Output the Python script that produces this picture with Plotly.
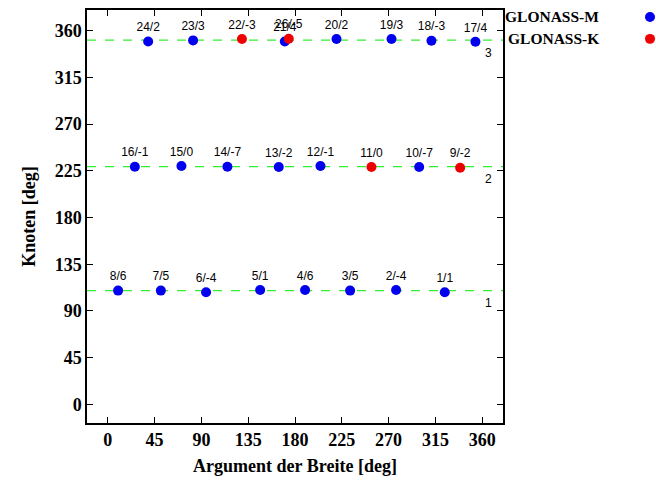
import plotly.graph_objects as go

# ---- data ----
m_labels = ["24/2", "23/3", "21/4", "20/2", "19/3", "18/-3", "17/4",
            "16/-1", "15/0", "14/-7", "13/-2", "12/-1", "10/-7",
            "8/6", "7/5", "6/-4", "5/1", "4/6", "3/5", "2/-4", "1/1"]
m_arg = [38.8, 82.0, 170.2, 219.9, 272.8, 311.2, 353.5,
         26.0, 70.8, 115.0, 164.4, 204.5, 299.4,
         9.9, 51.0, 94.5, 146.5, 189.7, 233.0, 277.2, 324.0]
m_node = [349.7, 350.7, 349.7, 352.0, 352.0, 350.4, 349.4,
          229.0, 229.7, 229.0, 228.7, 229.7, 228.7,
          109.6, 109.6, 108.0, 110.2, 110.2, 109.6, 110.2, 108.0]

k_labels = ["22/-3", "26/-5", "11/0", "9/-2"]
k_arg = [129.0, 174.0, 253.5, 338.8]
k_node = [352.0, 352.3, 228.7, 228.0]

plane_nodes = [109.6, 229.0, 351.0]
plane_names = ["1", "2", "3"]
plane_label_y = [98, 217, 338.5]

ticks = [0, 45, 90, 135, 180, 225, 270, 315, 360]

serif = "Liberation Serif, Times New Roman, Times, serif"
sans = "Liberation Sans, Arial, Helvetica, sans-serif"

fig = go.Figure()

for yv in plane_nodes:
    fig.add_hline(y=yv, line=dict(color="#33ee33", width=1.2, dash="dash"), layer="below")

fig.add_trace(go.Scatter(x=m_arg, y=m_node, mode="markers+text", text=m_labels,
                         textposition="top center",
                         textfont=dict(family=sans, size=12, color="black"),
                         marker=dict(color="#0000ee", size=10), showlegend=False,
                         cliponaxis=False))
fig.add_trace(go.Scatter(x=k_arg, y=k_node, mode="markers+text", text=k_labels,
                         textposition="top center",
                         textfont=dict(family=sans, size=12, color="black"),
                         marker=dict(color="#ee0000", size=10), showlegend=False,
                         cliponaxis=False))

for name, yv in zip(plane_names, plane_label_y):
    fig.add_annotation(x=366, y=yv, text=name, showarrow=False,
                       font=dict(family=sans, size=12, color="black"))

# legend (custom)
legend_items = [("GLONASS-M", "#0000ee", 15), ("GLONASS-K", "#ee0000", 37)]
for txt, col, ypx in legend_items:
    yp = 1 - (ypx - 8) / 415
    fig.add_annotation(xref="paper", yref="paper", x=(601 - 87) / 416, y=yp, xanchor="right",
                       yanchor="middle", text="<b>%s</b>" % txt, showarrow=False,
                       font=dict(family=serif, size=15.5, color="black"))
    fig.add_shape(type="circle", xref="paper", yref="paper",
                  x0=(645 - 87) / 416, x1=(655 - 87) / 416,
                  y0=1 - (ypx + 5 - 8) / 415, y1=1 - (ypx - 5 - 8) / 415,
                  fillcolor=col, line=dict(width=0))

axis_common = dict(showgrid=False, zeroline=False, showline=True, linecolor="black",
                   linewidth=1.5, mirror="ticks", ticks="inside", ticklen=6,
                   tickcolor="black", tickwidth=1,
                   tickfont=dict(family=serif, size=18, color="black"),
                   tickvals=ticks, ticktext=["<b>%d</b>" % t for t in ticks])

fig.update_xaxes(range=[-20, 380], title=dict(text="<b>Argument der Breite [deg]</b>",
                 font=dict(family=serif, size=18, color="black"), standoff=10),
                 **axis_common)
fig.update_yaxes(range=[-18, 380], title=dict(text="<b>Knoten [deg]</b>",
                 font=dict(family=serif, size=18, color="black"), standoff=14),
                 **axis_common)

fig.update_layout(width=656, height=481, margin=dict(l=87, r=153, t=8, b=58),
                  plot_bgcolor="white", paper_bgcolor="white", showlegend=False)

fig.write_html("out.html")
